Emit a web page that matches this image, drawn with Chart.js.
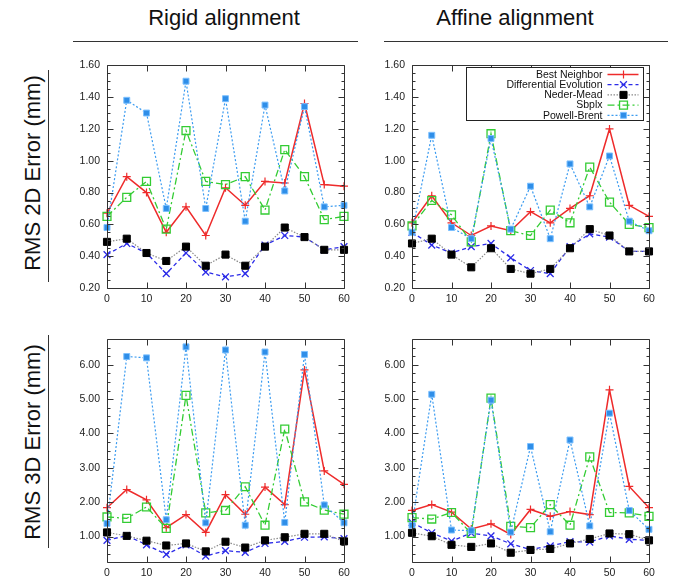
<!DOCTYPE html>
<html>
<head>
<meta charset="utf-8">
<script src="https://cdn.jsdelivr.net/npm/chart.js@4.4.0/dist/chart.umd.min.js"></script>
<style>
  html, body { margin: 0; padding: 0; background: #fff; }
  body { width: 676px; height: 582px; position: relative; overflow: hidden;
         font-family: "Liberation Sans", Arial, Helvetica, sans-serif; color: #111; }
  .title { position: absolute; top: 5px; width: 300px; font-size: 22px; text-align: center; line-height: 26px; }
  .rule { position: absolute; height: 0; border-top: 1.5px solid #333; }
  .vrule { position: absolute; width: 0; border-left: 1.5px solid #333; }
  .rowlab { position: absolute; width: 230px; height: 26px; line-height: 26px; font-size: 22px;
            text-align: center; transform: rotate(-90deg); transform-origin: 50% 50%; white-space: nowrap; }
  canvas { position: absolute; }
</style>
</head>
<body>
<div class="title" style="left:74px">Rigid alignment</div>
<div class="title" style="left:365px">Affine alignment</div>
<div class="rule" style="left:73px; width:285px; top:41px"></div>
<div class="rule" style="left:384px; width:284px; top:41px"></div>

<div class="rowlab" style="left:-82px; top:160px">RMS 2D Error (mm)</div>
<div class="rowlab" style="left:-82px; top:429px">RMS 3D Error (mm)</div>
<div class="vrule" style="left:48px; top:70px; height:212px"></div>
<div class="vrule" style="left:48px; top:335px; height:213px"></div>

<canvas id="rigid2d"  width="300" height="256" style="left:55px;  top:52px"></canvas>
<canvas id="affine2d" width="300" height="256" style="left:360px; top:52px"></canvas>
<canvas id="rigid3d"  width="300" height="256" style="left:55px;  top:326px"></canvas>
<canvas id="affine3d" width="300" height="256" style="left:360px; top:326px"></canvas>

<script>
// x positions shared by every panel
const xValues = [0, 5, 10, 15, 20, 25, 30, 35, 40, 45, 50, 55, 60];
const xTicks = [0, 10, 20, 30, 40, 50, 60];
const yTicks2D = [0.2, 0.4, 0.6, 0.8, 1.0, 1.2, 1.4, 1.6];
const yTicks3D = [1, 2, 3, 4, 5, 6];

const methods = ['Best Neighbor', 'Differential Evolution', 'Neder-Mead', 'Sbplx', 'Powell-Brent'];

// RMS 2D error, rigid alignment
const rigid2dBestNeighbor = [0.67, 0.90, 0.80, 0.55, 0.71, 0.53, 0.83, 0.72, 0.87, 0.86, 1.36, 0.85, 0.84];
const rigid2dDiffEvolution = [0.41, 0.48, 0.42, 0.29, 0.42, 0.30, 0.27, 0.29, 0.47, 0.53, 0.52, 0.44, 0.46];
const rigid2dNederMead = [0.49, 0.51, 0.42, 0.37, 0.46, 0.34, 0.41, 0.34, 0.46, 0.58, 0.52, 0.44, 0.44];
const rigid2dSbplx = [0.65, 0.77, 0.87, 0.57, 1.19, 0.87, 0.85, 0.90, 0.69, 1.07, 0.90, 0.63, 0.65];
const rigid2dPowellBrent = [0.58, 1.38, 1.30, 0.70, 1.50, 0.70, 1.39, 0.62, 1.35, 0.81, 1.34, 0.71, 0.72];

// RMS 2D error, affine alignment
const affine2dBestNeighbor = [0.61, 0.78, 0.61, 0.53, 0.59, 0.56, 0.68, 0.61, 0.70, 0.78, 1.20, 0.72, 0.65];
const affine2dDiffEvolution = [0.55, 0.47, 0.42, 0.46, 0.48, 0.39, 0.31, 0.29, 0.46, 0.54, 0.52, 0.43, 0.43];
const affine2dNederMead = [0.48, 0.51, 0.41, 0.33, 0.45, 0.32, 0.29, 0.32, 0.45, 0.57, 0.53, 0.43, 0.43];
const affine2dSbplx = [0.59, 0.75, 0.66, 0.49, 1.17, 0.56, 0.53, 0.69, 0.61, 0.96, 0.74, 0.60, 0.58];
const affine2dPowellBrent = [0.55, 1.16, 0.58, 0.51, 1.14, 0.57, 0.84, 0.51, 0.98, 0.71, 1.03, 0.62, 0.56];

// RMS 3D error, rigid alignment
const rigid3dBestNeighbor = [1.84, 2.37, 2.07, 1.26, 1.64, 1.12, 2.22, 1.65, 2.44, 1.93, 5.85, 2.91, 2.52];
const rigid3dDiffEvolution = [0.89, 1.03, 0.76, 0.48, 0.76, 0.43, 0.59, 0.54, 0.80, 0.86, 0.98, 0.99, 0.94];
const rigid3dNederMead = [1.12, 1.02, 0.88, 0.74, 0.80, 0.57, 0.85, 0.68, 0.89, 0.98, 1.08, 1.08, 0.86];
const rigid3dSbplx = [1.57, 1.53, 1.86, 1.24, 5.11, 1.69, 1.76, 2.45, 1.33, 4.13, 2.01, 1.77, 1.65];
const rigid3dPowellBrent = [1.38, 6.24, 6.20, 1.49, 6.52, 1.40, 6.43, 1.33, 6.37, 1.41, 6.30, 1.92, 1.40];

// RMS 3D error, affine alignment
const affine3dBestNeighbor = [1.76, 1.93, 1.71, 1.22, 1.37, 1.06, 1.79, 1.59, 1.73, 1.64, 5.27, 2.46, 1.84];
const affine3dDiffEvolution = [1.41, 1.11, 0.87, 1.10, 1.02, 0.79, 0.62, 0.73, 0.85, 0.84, 1.02, 0.92, 0.89];
const affine3dNederMead = [1.11, 1.01, 0.76, 0.70, 0.80, 0.53, 0.61, 0.64, 0.80, 0.93, 1.09, 1.07, 0.89];
const affine3dSbplx = [1.55, 1.51, 1.70, 1.09, 5.03, 1.30, 1.26, 1.93, 1.33, 3.32, 1.70, 1.69, 1.59];
const affine3dPowellBrent = [1.33, 5.14, 1.19, 1.17, 4.97, 1.13, 3.62, 1.14, 3.81, 1.31, 4.59, 1.76, 1.21];

const FONT = '"Liberation Sans", Arial, Helvetica, sans-serif';

// line and marker style for each method (same order as `methods`)
const seriesStyles = [
  { color: '#ee2b2b', dash: [], width: 1.5, marker: 'cross', r: 4, fill: '#ee2b2b', stroke: '#ee2b2b', mw: 1.2 },
  { color: '#2b2be8', dash: [4, 3], width: 1.3, marker: 'crossRot', r: 4.8, fill: '#2b2be8', stroke: '#2b2be8', mw: 1.3 },
  { color: '#8a8a8a', dash: [1.5, 1.5], width: 1.2, marker: 'rect', r: 5, fill: '#000000', stroke: '#000000', mw: 1 },
  { color: '#33cc33', dash: [7, 3, 2, 3], width: 1.3, marker: 'rect', r: 5.6, fill: 'rgba(255,255,255,0)', stroke: '#33cc33', mw: 1.3 },
  { color: '#3b9bf0', dash: [2, 2], width: 1.2, marker: 'rect', r: 4.2, fill: '#2f8ee8', stroke: '#7cc0ff', mw: 1 }
];

function drawMarker(ctx, st, x, y) {
  ctx.save();
  ctx.setLineDash([]);
  ctx.lineWidth = st.mw;
  ctx.strokeStyle = st.stroke;
  ctx.fillStyle = st.fill;
  ctx.beginPath();
  if (st.marker === 'cross') {
    ctx.moveTo(x - st.r, y); ctx.lineTo(x + st.r, y);
    ctx.moveTo(x, y - st.r); ctx.lineTo(x, y + st.r);
    ctx.stroke();
  } else if (st.marker === 'crossRot') {
    const d = st.r * Math.SQRT1_2;
    ctx.moveTo(x - d, y - d); ctx.lineTo(x + d, y + d);
    ctx.moveTo(x - d, y + d); ctx.lineTo(x + d, y - d);
    ctx.stroke();
  } else {
    const s = st.r * Math.SQRT1_2;
    ctx.rect(x - s, y - s, 2 * s, 2 * s);
    ctx.fill();
    ctx.stroke();
  }
  ctx.restore();
}

// plot frame with inward ticks (major on both axes, minor on y) and optional legend box
const framePlugin = {
  id: 'frame',
  afterDatasetsDraw(chart, args, opts) {
    const { ctx, chartArea: a, scales } = chart;
    const xs = scales.x, ys = scales.y;
    ctx.save();
    ctx.setLineDash([]);
    ctx.strokeStyle = '#333';
    ctx.lineWidth = 1;
    ctx.beginPath();
    const L = Math.round(a.left) + 0.5, R = Math.round(a.right) + 0.5;
    const T = Math.round(a.top) + 0.5, B = Math.round(a.bottom) + 0.5;
    ctx.rect(L, T, R - L, B - T);
    // x major ticks, bottom and top
    xTicks.forEach(v => {
      const px = Math.round(xs.getPixelForValue(v)) + 0.5;
      ctx.moveTo(px, B); ctx.lineTo(px, B - 6);
      ctx.moveTo(px, T); ctx.lineTo(px, T + 6);
    });
    // y major ticks, left and right
    const yt = opts.yTicks;
    yt.forEach(v => {
      const py = Math.round(ys.getPixelForValue(v)) + 0.5;
      ctx.moveTo(L, py); ctx.lineTo(L + 6, py);
      ctx.moveTo(R, py); ctx.lineTo(R - 6, py);
    });
    // y minor ticks, four intervals per major step
    const step = yt[1] - yt[0];
    const minor = step / 4;
    const k0 = Math.ceil((ys.min - yt[0]) / minor);
    const k1 = Math.floor((ys.max - yt[0]) / minor);
    for (let k = k0; k <= k1; k++) {
      if (k % 4 === 0) continue;
      const v = yt[0] + k * minor;
      const py = Math.round(ys.getPixelForValue(v)) + 0.5;
      ctx.moveTo(L, py); ctx.lineTo(L + 3, py);
      ctx.moveTo(R, py); ctx.lineTo(R - 3, py);
    }
    ctx.stroke();

    if (opts.legend) {
      const bx = Math.round(a.right - 6) + 0.5, by = Math.round(a.top + 2) + 0.5;
      const bw = 177, bh = 53;
      const left = bx - bw;
      ctx.fillStyle = '#fff';
      ctx.fillRect(left, by, bw, bh);
      ctx.strokeStyle = '#222';
      ctx.lineWidth = 1;
      ctx.strokeRect(left, by, bw, bh);
      ctx.font = '10.5px ' + FONT;
      ctx.textAlign = 'right';
      ctx.textBaseline = 'middle';
      methods.forEach((name, i) => {
        const st = seriesStyles[i];
        const y = by + 7 + i * 10.2;
        ctx.fillStyle = '#111';
        ctx.fillText(name, left + 136, y + 0.5);
        ctx.save();
        ctx.strokeStyle = st.color;
        ctx.lineWidth = st.width;
        ctx.setLineDash(st.dash);
        ctx.beginPath();
        ctx.moveTo(left + 141, y); ctx.lineTo(left + 172, y);
        ctx.stroke();
        ctx.restore();
        drawMarker(ctx, st, left + 157, y);
      });
    }
    ctx.restore();
  }
};

function buildDatasets(seriesList) {
  return seriesList.map((vals, i) => {
    const st = seriesStyles[i];
    return {
      label: methods[i],
      data: xValues.map((x, j) => ({ x: x, y: vals[j] })),
      borderColor: st.color,
      borderWidth: st.width,
      borderDash: st.dash,
      backgroundColor: st.fill,
      pointStyle: st.marker,
      pointRadius: st.r,
      pointBorderWidth: st.mw,
      pointBorderColor: st.stroke,
      pointBackgroundColor: st.fill,
      tension: 0,
      fill: false,
      clip: false,
      order: methods.length - i
    };
  });
}

function makePanel(id, seriesList, yMin, yMax, yTicks, legend) {
  const tickFont = { size: 10.5, family: FONT };
  return new Chart(document.getElementById(id), {
    type: 'line',
    data: { datasets: buildDatasets(seriesList) },
    options: {
      responsive: false,
      animation: false,
      devicePixelRatio: 1,
      layout: { padding: { top: 11, right: 11, left: 0, bottom: 0 } },
      plugins: {
        legend: { display: false },
        tooltip: { enabled: false },
        frame: { yTicks: yTicks, legend: legend }
      },
      scales: {
        x: {
          type: 'linear', min: 0, max: 60,
          afterBuildTicks: s => { s.ticks = xTicks.map(v => ({ value: v })); },
          afterFit: s => { s.height = 20; },
          grid: { display: false, drawTicks: false },
          border: { display: false },
          ticks: { padding: 5, color: '#222', font: tickFont, maxRotation: 0, autoSkip: false,
                   callback: v => String(v) }
        },
        y: {
          type: 'linear', min: yMin, max: yMax,
          afterBuildTicks: s => { s.ticks = yTicks.map(v => ({ value: v })); },
          afterFit: s => { s.width = 52; },
          grid: { display: false, drawTicks: false },
          border: { display: false },
          ticks: { padding: 7, color: '#222', font: tickFont, autoSkip: false,
                   callback: v => Number(v).toFixed(2) }
        }
      }
    },
    plugins: [framePlugin]
  });
}

makePanel('rigid2d',
  [rigid2dBestNeighbor, rigid2dDiffEvolution, rigid2dNederMead, rigid2dSbplx, rigid2dPowellBrent],
  0.2, 1.6, yTicks2D, false);
makePanel('affine2d',
  [affine2dBestNeighbor, affine2dDiffEvolution, affine2dNederMead, affine2dSbplx, affine2dPowellBrent],
  0.2, 1.6, yTicks2D, true);
makePanel('rigid3d',
  [rigid3dBestNeighbor, rigid3dDiffEvolution, rigid3dNederMead, rigid3dSbplx, rigid3dPowellBrent],
  0.26, 6.74, yTicks3D, false);
makePanel('affine3d',
  [affine3dBestNeighbor, affine3dDiffEvolution, affine3dNederMead, affine3dSbplx, affine3dPowellBrent],
  0.26, 6.74, yTicks3D, false);
</script>
</body>
</html>
